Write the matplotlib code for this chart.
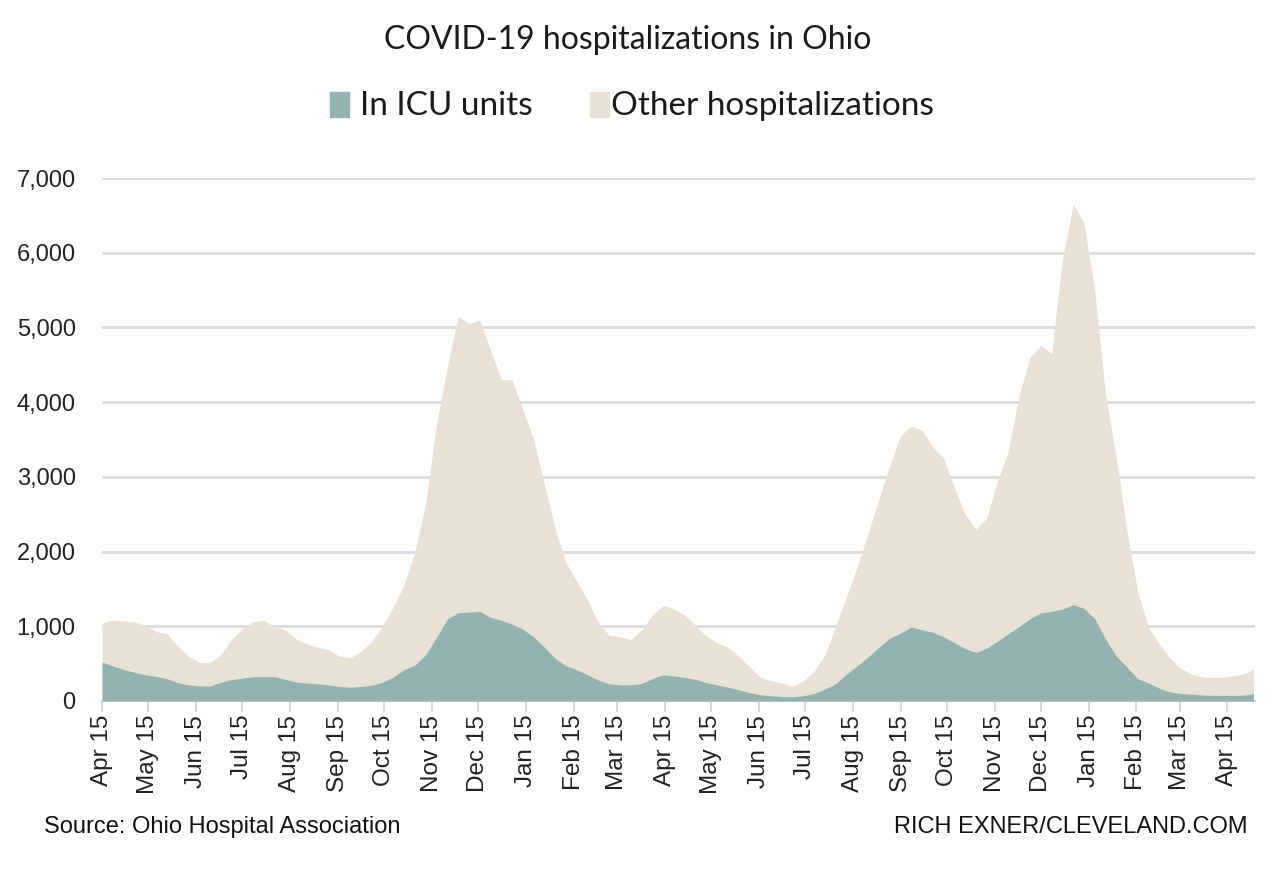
import pandas as pd
import matplotlib
matplotlib.use("Agg")
import matplotlib.pyplot as plt
from matplotlib.patches import Rectangle

# weekly readings, Ohio COVID-19 hospitalizations (total in hospital and ICU share)
dates = list(pd.date_range("2020-04-15", "2022-04-27", freq="7D")) + [pd.Timestamp("2022-05-02")]

total = [1040, 1085, 1070, 1060, 1010, 930, 900, 740, 600, 520,
         510, 620, 820, 970, 1060, 1080, 990, 950, 830, 760,
         720, 680, 600, 580, 660, 800, 1000, 1260, 1560, 2000,
         2650, 3700, 4470, 5150, 5050, 5100, 4700, 4300, 4300, 3900,
         3500, 2900, 2300, 1850, 1600, 1350, 1050, 880, 860, 820,
         950, 1150, 1280, 1230, 1150, 1010, 870, 780, 720, 600,
         460, 320, 270, 240, 195, 270, 400, 620, 1000, 1400,
         1800, 2250, 2700, 3150, 3550, 3680, 3620, 3400, 3250, 2850,
         2500, 2300, 2450, 2950, 3350, 4100, 4600, 4760, 4650, 5900,
         6650, 6400, 5500, 4100, 3250, 2260, 1450, 980, 760, 570,
         430, 360, 320, 315, 320, 340, 370, 430]

icu = [520, 470, 420, 385, 350, 330, 300, 245, 215, 200,
       200, 250, 285, 305, 325, 325, 325, 290, 255, 240,
       230, 215, 195, 185, 195, 210, 250, 320, 420, 480,
       620, 850, 1100, 1180, 1190, 1200, 1120, 1080, 1030, 960,
       860, 720, 570, 470, 420, 350, 280, 230, 215, 215,
       235, 300, 350, 335, 315, 290, 245, 215, 185, 150,
       110, 85, 70, 60, 55, 70, 100, 160, 230, 360,
       470, 590, 720, 840, 910, 990, 950, 920, 860, 780,
       700, 650, 710, 800, 900, 1000, 1100, 1180, 1200, 1230,
       1290, 1240, 1100, 830, 600, 450, 300, 240, 170, 120,
       100, 90, 80, 75, 75, 75, 80, 100]

tick_dates = pd.date_range("2020-04-01", "2022-04-01", freq="MS") + pd.Timedelta(days=14)
tick_labels = [d.strftime("%b 15") for d in tick_dates]

teal = "#93b3b0"
beige = "#e8e2d6"

fig = plt.figure(figsize=(12.8, 8.77), dpi=100)
ax = fig.add_axes([0.0797, 0.2007, 0.9008, 0.5963])

ax.fill_between(dates, 0, total, color=beige, linewidth=0, zorder=2)
ax.fill_between(dates, 0, icu, color=teal, linewidth=0, zorder=3)

ax.set_xlim(pd.Timestamp("2020-04-15"), pd.Timestamp("2022-05-03"))
ax.set_ylim(0, 7000)
ax.set_yticks(range(0, 7001, 1000))
ax.set_yticklabels([f"{v:,}" for v in range(0, 7001, 1000)], fontsize=17,
                   family="Liberation Sans", color="#222222")
ax.yaxis.grid(True, color="#dcdae0", linewidth=2, zorder=1)
ax.set_axisbelow(True)
ax.tick_params(axis="y", length=0, pad=19)

ax.set_xticks(tick_dates)
ax.set_xticklabels(tick_labels, rotation=90, fontsize=17.5, family="Liberation Sans",
                   color="#222222")
ax.tick_params(axis="x", length=8, width=1.2, color="#d0d0d8", pad=2)

for s in ["top", "right", "left"]:
    ax.spines[s].set_visible(False)
ax.spines["bottom"].set_color("#d0d0d8")
ax.spines["bottom"].set_linewidth(1.5)

fig.text(0.49, 0.954, "COVID-19 hospitalizations in Ohio", ha="center", va="center",
         fontsize=23, family="Lato", color="#1a1a1a")

# legend row
fig.patches.append(Rectangle((0.258, 0.867), 0.015, 0.028, transform=fig.transFigure,
                             color=teal, zorder=5))
fig.text(0.281, 0.879, "In ICU units", ha="left", va="center", fontsize=24,
         family="Lato", color="#1a1a1a")
fig.patches.append(Rectangle((0.461, 0.867), 0.015, 0.028, transform=fig.transFigure,
                             color=beige, zorder=5))
fig.text(0.477, 0.879, "Other hospitalizations", ha="left", va="center", fontsize=24,
         family="Lato", color="#1a1a1a")

fig.text(0.034, 0.057, "Source: Ohio Hospital Association", ha="left", va="center",
         fontsize=17, family="Liberation Sans", color="#111111")
fig.text(0.975, 0.057, "RICH EXNER/CLEVELAND.COM", ha="right", va="center",
         fontsize=17, family="Liberation Sans", color="#111111")

fig.savefig("out.png", dpi=100, facecolor="white")
